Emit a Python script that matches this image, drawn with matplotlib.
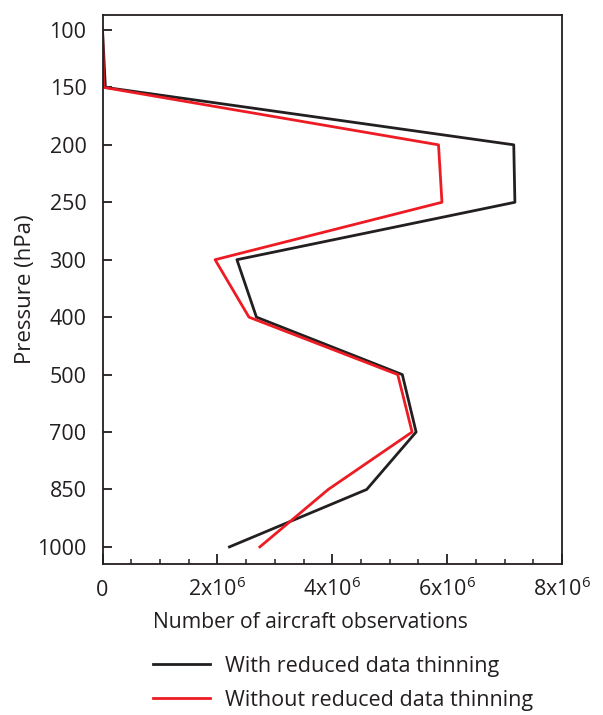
import matplotlib
matplotlib.use("Agg")
import matplotlib.pyplot as plt
from matplotlib.ticker import MultipleLocator, FixedLocator

plt.rcParams['font.family'] = ['Open Sans', 'DejaVu Sans']
plt.rcParams['mathtext.fontset'] = 'custom'
plt.rcParams['mathtext.rm'] = 'Open Sans'
plt.rcParams['mathtext.it'] = 'Open Sans'

# pressure levels (hPa), drawn at equal spacing
levels = ['100', '150', '200', '250', '300', '400', '500', '700', '850', '1000']
# number of aircraft observations per level
with_thinning = [0.0, 0.05e6, 7.16e6, 7.18e6, 2.34e6, 2.68e6, 5.22e6, 5.46e6, 4.60e6, 2.21e6]
without_thinning = [0.0, 0.02e6, 5.85e6, 5.91e6, 1.96e6, 2.55e6, 5.14e6, 5.39e6, 3.93e6, 2.74e6]

x_ticks = [0, 2e6, 4e6, 6e6, 8e6]
x_tick_labels = ['0', r'2x10$^{6}$', r'4x10$^{6}$', r'6x10$^{6}$', r'8x10$^{6}$']

txt = '#231f20'
black = '#231f20'
red = '#ed1c24'
fs = 15.5

fig = plt.figure(figsize=(6.03, 7.15), dpi=100)
ax = fig.add_axes([0.170, 0.211, 0.762, 0.768])

pos = list(range(len(levels)))
l1, = ax.plot(with_thinning, pos, color=black, lw=2.0, label='With reduced data thinning')
l2, = ax.plot(without_thinning, pos, color=red, lw=2.0, label='Without reduced data thinning')

ax.set_xlim(0, 8e6)
ax.set_ylim(9.3, -0.26)
ax.set_yticks(pos)
ax.set_yticklabels(levels)
ax.xaxis.set_major_locator(FixedLocator(x_ticks))
ax.set_xticklabels(x_tick_labels)
ax.xaxis.set_minor_locator(MultipleLocator(0.5e6))

ax.tick_params(axis='y', which='major', direction='in', length=6.5, width=1.3,
               colors=txt, labelsize=fs, pad=11.5)
ax.tick_params(axis='x', which='major', direction='in', length=7.5, width=1.3,
               colors=txt, labelsize=fs, pad=23)
ax.tick_params(axis='x', which='minor', direction='in', length=3.6, width=1.1, color=txt)
for lbl in ax.get_xticklabels():
    lbl.set_va('baseline')
for s in ax.spines.values():
    s.set_color(txt)
    s.set_linewidth(1.3)

ax.set_xlabel('Number of aircraft observations', fontsize=15.2, color=txt,
              labelpad=8, x=0.452)
ax.set_ylabel('Pressure (hPa)', fontsize=fs + 0.5, color=txt, labelpad=0.5)

fig.legend(handles=[l1, l2], loc='upper left', bbox_to_anchor=(0.254, 0.083),
           frameon=False, fontsize=fs, handlelength=2.65, handletextpad=0.7,
           labelspacing=0.6, borderaxespad=0, borderpad=0, labelcolor=txt)

fig.savefig('out.png', dpi=100)
